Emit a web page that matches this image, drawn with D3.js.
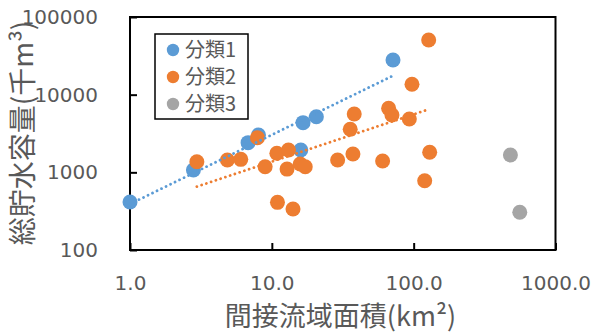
<!DOCTYPE html>
<html>
<head>
<meta charset="utf-8">
<script src="https://cdn.jsdelivr.net/npm/d3@7"></script>
<style>
  body { margin: 0; background: #fff; }
</style>
</head>
<body>
<div id="chart"></div>
<script>
"use strict";

// series (x: 間接流域面積 km², y: 総貯水容量 千m³)
const cat1X = [1.0, 2.8, 6.8, 8.05, 16.0, 16.6, 20.6, 71.5];
const cat1Y = [415, 1070, 2410, 3030, 1940, 4360, 5200, 27900];

const cat2X = [2.96, 4.86, 6.04, 7.92, 8.97, 10.85, 10.96, 12.8, 13.1, 14.1, 15.85, 17.2,
  29.1, 35.7, 37.3, 38.1, 60.4, 66.6, 70.3, 93.2, 97.3, 119.6, 127.6, 129.7];
const cat2Y = [1370, 1440, 1470, 2790, 1180, 1760, 411, 1100, 1940, 337, 1280, 1180,
  1440, 3580, 1720, 5640, 1400, 6670, 5470, 4860, 13600, 780, 50600, 1810];

const cat3X = [481, 560];
const cat3Y = [1670, 306];

// power trendlines y = a * x^b (coefficients)
const trendCoef1 = [391, 0.891];
const trendCoef2 = [338, 0.609];

const seriesNames = ["分類1", "分類2", "分類3"];
const seriesColors = ["#5B9BD5", "#ED7D31", "#A5A5A5"];

const xTicks = [1, 10, 100, 1000];
const yTicks = [100, 1000, 10000, 100000];

const W = 592, H = 334;
const plot = { left: 130, top: 17, right: 555.5, bottom: 250 };
const font = "'Noto Sans CJK JP', 'Noto Sans', sans-serif";
const numFont = "'DejaVu Sans', sans-serif";
const textGray = "#595959";

const svg = d3.select("#chart").append("svg")
  .attr("width", W).attr("height", H)
  .attr("viewBox", [0, 0, W, H]);

const x = d3.scaleLog().domain([1, 1000]).range([plot.left, plot.right]);
const y = d3.scaleLog().domain([100, 100000]).range([plot.bottom, plot.top]);

// axes with inward ticks
const xAxis = svg.append("g")
  .attr("transform", `translate(0,${plot.bottom})`)
  .call(d3.axisBottom(x).tickValues(xTicks).tickFormat(d3.format(".1f"))
    .tickSizeInner(-7).tickSizeOuter(0).tickPadding(26));

const yAxis = svg.append("g")
  .attr("transform", `translate(${plot.left},0)`)
  .call(d3.axisLeft(y).tickValues(yTicks).tickFormat(d3.format("d"))
    .tickSizeInner(-7).tickSizeOuter(0).tickPadding(32));

[xAxis, yAxis].forEach(function (g) {
  g.select(".domain").remove();
  g.attr("font-family", numFont).attr("font-size", 20);
  g.selectAll("text").attr("fill", textGray);
  g.selectAll("line").attr("stroke", "#000").attr("stroke-width", 2);
});

// plot frame
svg.append("rect")
  .attr("x", plot.left).attr("y", plot.top)
  .attr("width", plot.right - plot.left).attr("height", plot.bottom - plot.top)
  .attr("fill", "none").attr("stroke", "#000").attr("stroke-width", 2);

// markers
const series = [
  [cat1X, cat1Y],
  [cat2X, cat2Y],
  [cat3X, cat3Y],
];

series.forEach(function ([xs, ys], k) {
  svg.append("g")
    .selectAll("circle")
    .data(xs.map((v, i) => [v, ys[i]]))
    .join("circle")
    .attr("cx", ([a]) => x(a))
    .attr("cy", ([, b]) => y(b))
    .attr("r", 7.5)
    .attr("fill", seriesColors[k]);
});

// trendlines over the markers
const line = d3.line().x(([a]) => x(a)).y(([, b]) => y(b));
[[cat1X, trendCoef1, 0], [cat2X, trendCoef2, 1]].forEach(function ([xs, [a, b], k]) {
  const ext = d3.extent(xs);
  svg.append("path")
    .datum(ext.map((v) => [v, a * Math.pow(v, b)]))
    .attr("d", line)
    .attr("fill", "none")
    .attr("stroke", seriesColors[k])
    .attr("stroke-width", 2.8)
    .attr("stroke-linecap", "round")
    .attr("stroke-dasharray", "0.01 5");
});

// legend
const legend = svg.append("g");
legend.append("rect")
  .attr("x", 155).attr("y", 34).attr("width", 93).attr("height", 85)
  .attr("fill", "#fff").attr("stroke", "#000").attr("stroke-width", 1.5);

const item = legend.selectAll("g.item")
  .data(seriesNames)
  .join("g")
  .attr("class", "item")
  .attr("transform", (d, i) => `translate(173,${50 + i * 27})`);

item.append("circle").attr("r", 6.2).attr("fill", (d, i) => seriesColors[i]);
item.append("text")
  .attr("x", 12).attr("dy", "0.36em")
  .attr("font-family", font).attr("font-size", 20)
  .attr("fill", textGray)
  .text((d) => d);

// axis titles
svg.append("text")
  .attr("x", 340.5).attr("y", 325.5)
  .attr("text-anchor", "middle")
  .attr("font-family", font).attr("font-size", 27)
  .attr("fill", textGray)
  .text("間接流域面積(km²)");

svg.append("text")
  .attr("transform", `translate(33,133) rotate(-90)`)
  .attr("text-anchor", "middle")
  .attr("font-family", font).attr("font-size", 28)
  .attr("fill", textGray)
  .text("総貯水容量(千m³)");
</script>
</body>
</html>
